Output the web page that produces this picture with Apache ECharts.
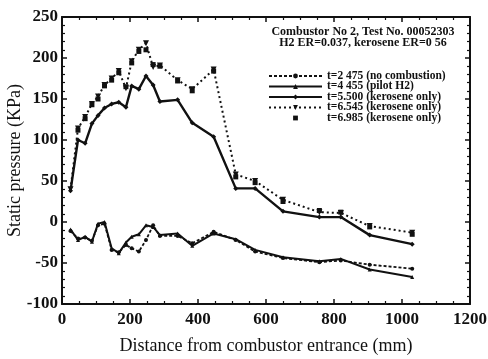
<!DOCTYPE html>
<html>
<head>
<meta charset="utf-8">
<script src="https://cdn.jsdelivr.net/npm/echarts@6/dist/echarts.min.js"></script>
<style>
  html, body { margin: 0; padding: 0; background: #fff; }
  #chart { width: 488px; height: 359px; }
</style>
</head>
<body>
<div id="chart"></div>
<script>
// transducer positions along the combustor (mm)
const positions = [25, 47, 68, 88, 106, 125, 146, 167, 188, 205, 226, 247, 268, 288, 340, 383, 446, 511, 568, 650, 757, 820, 905, 1030];

// static pressure (KPa) per run time
const t2475 = [-11, -20, -19, -23, -4, -2, -34, -37, -28, -32, -36, -22, -4, -17, -17, -26, -12, -22, -36, -44, -49, -47, -52, -57];
const t4455 = [-9, -22, -18, -24, -2, 0, -32, -38, -25, -18, -15, -4, -6, -16, -14, -29, -14, -21, -34, -43, -48, -45, -58, -67];
const t5500 = [38, 100, 96, 120, 130, 139, 144, 146, 140, 166, 162, 178, 167, 147, 149, 121, 104, 41, 41, 13, 6, 6, -16, -27];
const t6545 = [40, 114, 128, 144, 153, 167, 175, 184, 163, 196, 210, 218, 189, 191, 173, 162, 186, 58, 50, 27, 12, 11, -5, -13];
const t6985 = [null, 112, 126, 143, 150, 166, 173, 182, 165, 194, 208, 210, 192, 190, 172, 160, 184, 55, 48, 25, 14, 12, -6, -15];

const legendNames = [
  "t=2 475 (no combustion)",
  "t=4 455 (pilot H2)",
  "t=5.500 (kerosene only)",
  "t=6.545 (kerosene only)",
  "t=6.985 (kerosene only)",
];

const xTicks = { min: 0, max: 1200, interval: 200 };
const yTicks = { min: -100, max: 250, interval: 50 };

const pair = (ys) => positions.map((x, i) => [x, ys[i]]);
const ink = "#111";
const font = "Liberation Serif";

const chart = echarts.init(document.getElementById("chart"));

const tickStyle = { show: true, inside: true, length: 5, lineStyle: { color: ink, width: 1.5 } };
const minorStyle = (n) => ({ show: true, splitNumber: n, length: 3, lineStyle: { color: ink, width: 1.2 } });
const frameLine = { show: true, onZero: false, lineStyle: { color: ink, width: 2 } };
const tickLabel = { fontFamily: font, fontSize: 17, fontWeight: "bold", color: ink, formatter: (v) => String(v) };

chart.setOption({
  animation: false,
  title: {
    text: "Combustor No 2, Test No. 00052303\nH2 ER=0.037, kerosene ER=0 56",
    left: 358,
    top: 21,
    textAlign: "center",
    textStyle: { fontFamily: font, fontSize: 12, fontWeight: "bold", lineHeight: 11, color: ink },
  },
  legend: {
    data: legendNames,
    orient: "vertical",
    left: 263,
    top: 65,
    itemWidth: 53,
    itemHeight: 6,
    itemGap: -1.5,
    textStyle: { fontFamily: font, fontSize: 11.5, fontWeight: "bold", color: ink, lineHeight: 10, padding: [0, 0, 0, 0] },
  },
  grid: { left: 62, right: 18, top: 17, bottom: 55, outerBoundsMode: "none", containLabel: false },
  xAxis: [
    {
      type: "value",
      ...xTicks,
      name: "Distance from combustor entrance (mm)",
      nameLocation: "middle",
      nameGap: 33,
      nameMoveOverlap: false,
      nameTextStyle: { fontFamily: font, fontSize: 18, color: ink },
      axisLine: frameLine,
      axisTick: tickStyle,
      minorTick: minorStyle(4),
      splitLine: { show: false },
      axisLabel: { ...tickLabel, margin: 7 },
    },
    {
      type: "value",
      ...xTicks,
      position: "top",
      axisLine: frameLine,
      axisTick: tickStyle,
      minorTick: minorStyle(4),
      splitLine: { show: false },
      axisLabel: { show: false },
    },
  ],
  yAxis: [
    {
      type: "value",
      ...yTicks,
      name: "Static pressure (KPa)",
      nameLocation: "middle",
      nameGap: 38,
      nameMoveOverlap: false,
      nameTextStyle: { fontFamily: font, fontSize: 18, color: ink },
      axisLine: frameLine,
      axisTick: tickStyle,
      minorTick: minorStyle(5),
      splitLine: { show: false },
      axisLabel: { ...tickLabel, margin: 4 },
    },
    {
      type: "value",
      ...yTicks,
      position: "right",
      axisLine: frameLine,
      axisTick: tickStyle,
      minorTick: minorStyle(5),
      splitLine: { show: false },
      axisLabel: { show: false },
    },
  ],
  series: [
    {
      name: legendNames[0],
      type: "line",
      data: pair(t2475),
      symbol: "circle",
      symbolSize: 4,
      itemStyle: { color: ink },
      lineStyle: { color: ink, width: 1.8, type: [3, 2] },
    },
    {
      name: legendNames[1],
      type: "line",
      data: pair(t4455),
      symbol: "triangle",
      symbolSize: 4,
      itemStyle: { color: ink },
      lineStyle: { color: ink, width: 2 },
    },
    {
      name: legendNames[2],
      type: "line",
      data: pair(t5500),
      symbol: "diamond",
      symbolSize: 5,
      itemStyle: { color: ink },
      lineStyle: { color: ink, width: 2.4 },
    },
    {
      name: legendNames[3],
      type: "line",
      data: pair(t6545),
      symbol: "triangle",
      symbolRotate: 180,
      symbolSize: 6,
      itemStyle: { color: ink },
      lineStyle: { color: ink, width: 2, type: [2, 3] },
    },
    {
      name: legendNames[4],
      type: "line",
      data: pair(t6985),
      symbol: "rect",
      symbolSize: 5,
      itemStyle: { color: ink },
      lineStyle: { width: 0, opacity: 0 },
    },
  ],
});
</script>
</body>
</html>
